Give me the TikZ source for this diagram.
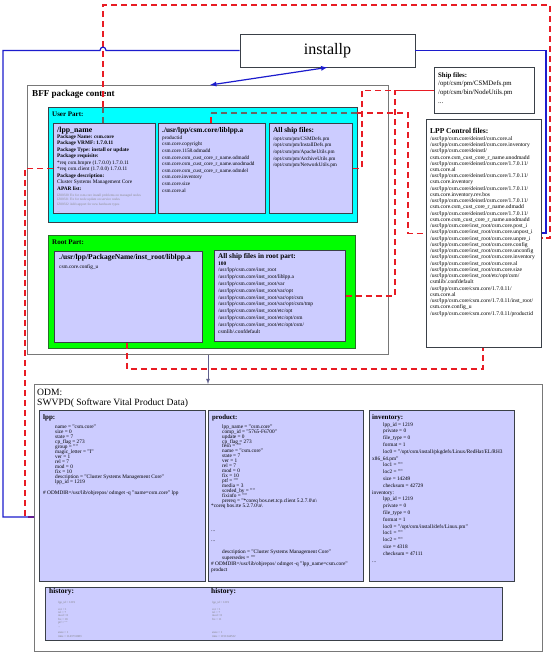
\documentclass[tikz,border=0pt]{standalone}
\usepackage{fontspec}
\setmainfont{Liberation Serif}
\usepackage{tikz}
\usetikzlibrary{arrows,calc}

\definecolor{filefill}{RGB}{204,204,255}
\definecolor{boxline}{RGB}{58,64,72}
\definecolor{partcyan}{RGB}{0,255,255}
\definecolor{partgreen}{RGB}{0,255,0}
\definecolor{greenedge}{RGB}{40,110,40}
\definecolor{linkred}{RGB}{232,28,36}
\definecolor{linkblue}{RGB}{28,28,205}
\definecolor{framegrey}{RGB}{120,120,120}
\definecolor{odmarrow}{RGB}{95,95,140}

\begin{document}
\begin{tikzpicture}[>=latex, x=1pt, y=-1pt]
	\tikzstyle{outerbox}=[draw=framegrey, line width=1.1pt, fill=white, anchor=north west, inner sep=0pt]
	\tikzstyle{partbox}=[draw=boxline, line width=0.9pt, anchor=north west, inner sep=0pt]
	\tikzstyle{filebox}=[draw=boxline, line width=0.9pt, fill=filefill, anchor=north west, inner sep=0pt]
	\tikzstyle{plainbox}=[draw=boxline, line width=0.8pt, fill=white, anchor=north west, inner sep=0pt]
	\tikzstyle{txt}=[anchor=north west, inner sep=0pt, align=left]
	\tikzstyle{redlink}=[draw=linkred, line width=1.4pt, dash pattern=on 6pt off 4pt]
	\tikzstyle{greylink}=[draw=black!60, line width=1.4pt, dash pattern=on 6pt off 4pt]
	\tikzstyle{bluelink}=[draw=linkblue, line width=1.2pt]

	\newcommand{\txtsize}[2]{\fontsize{#1}{#2}\selectfont\lineskiplimit=-10pt\relax}
	\newcommand{\fieldind}{\hspace*{11pt}}

	\path [use as bounding box, fill=white] (0,0) rectangle (553,654);

	\node (bff) [outerbox, minimum width=361pt, minimum height=269pt] at (27,85) {};
	\node (bffT) [txt, font=\bfseries\txtsize{9.1}{10}] at (32,89.5) {BFF package content};

	\node (user) [partbox, fill=partcyan, minimum width=309pt, minimum height=115pt] at (48,107) {};
	\node (userT) [txt, font=\bfseries\txtsize{7}{8}] at (52,111.5) {User Part:};

	\node (lppn) [filebox, minimum width=102pt, minimum height=90pt] at (53,123) {};
	\node (lppnT) [txt, font=\bfseries\txtsize{7.8}{9}] at (57,127) {/lpp\_name};
	\node (lppnL) [txt, font=\txtsize{5.3}{6.5}] at (57,134.5) {\textbf{Package Name: csm.core}\\\textbf{Package VRMF: 1.7.0.11}\\\textbf{Package Type: install or update}\\\textbf{Package requisite:}\\*req csm.hmpre (1.7.0.0) 1.7.0.11\\*req csm.client (1.7.0.0) 1.7.0.11\\\textbf{Package description:}\\Cluster Systems Management Core\\\textbf{APAR list:}};
	\node (lppnA) [txt, text=black!45, font=\txtsize{3.4}{4.5}] at (57,193.5) {IZ00330 Fix for csm.core install problems on managed nodes\\IZ00331 Fix for node update on service nodes\\IZ00332 Add support for new hardware types\\[2.5pt]...};

	\node (libu) [filebox, minimum width=107pt, minimum height=90pt] at (158,123) {};
	\node (libuT) [txt, font=\bfseries\txtsize{7.3}{9}] at (162,127.3) {./usr/lpp/csm.core/liblpp.a};
	\node (libuL) [txt, font=\txtsize{5.2}{6.6}] at (162,135.5) {productid\\csm.core.copyright\\csm.core.1158.odmadd\\csm.core.csm\_cust\_core\_r\_name.odmadd\\csm.core.csm\_cust\_core\_r\_name.unodmadd\\csm.core.csm\_cust\_core\_r\_name.odmdel\\csm.core.inventory\\csm.core.size\\csm.core.al};

	\node (shipu) [filebox, minimum width=83pt, minimum height=90pt] at (269,123) {};
	\node (shipuT) [txt, font=\bfseries\txtsize{7.3}{9}] at (273,127.3) {All ship files:};
	\node (shipuL) [txt, font=\txtsize{5.2}{6.6}] at (273,136.5) {/opt/csm/pm/CSMDefs.pm\\/opt/csm/pm/InstallDefs.pm\\/opt/csm/pm/ApacheUtils.pm\\/opt/csm/pm/ArchiveUtils.pm\\/opt/csm/pm/NetworkUtils.pm};

	\node (root) [partbox, draw=greenedge, line width=1.2pt, fill=partgreen, minimum width=307pt, minimum height=113pt] at (48,235) {};
	\node (rootT) [txt, font=\bfseries\txtsize{7}{8}] at (52,239.5) {Root Part:};

	\node (libr) [filebox, minimum width=148pt, minimum height=91pt] at (54,251) {};
	\node (librT) [txt, font=\bfseries\txtsize{7.5}{9}] at (59,254.3) {./usr/lpp/PackageName/inst\_root/liblpp.a};
	\node (librL) [txt, font=\txtsize{5.3}{6.5}] at (59,264.5) {csm.core.config\_u};

	\node (shipr) [filebox, minimum width=131pt, minimum height=91pt] at (214,250) {};
	\node (shiprT) [txt, font=\bfseries\txtsize{7.2}{9}] at (218,253.4) {All ship files in root part:};
	\node (shiprL) [txt, font=\txtsize{5.4}{6.8}] at (218,261.3) {\textbf{100}\\/usr/lpp/csm.core/inst\_root\\/usr/lpp/csm.core/inst\_root/liblpp.a\\/usr/lpp/csm.core/inst\_root/var\\/usr/lpp/csm.core/inst\_root/var/opt\\/usr/lpp/csm.core/inst\_root/var/opt/csm\\/usr/lpp/csm.core/inst\_root/var/opt/csm/tmp\\/usr/lpp/csm.core/inst\_root/etc/opt\\/usr/lpp/csm.core/inst\_root/etc/opt/csm\\/usr/lpp/csm.core/inst\_root/etc/opt/csm/\\csmlib/.confdefault};

	\node (ship) [plainbox, minimum width=100pt, minimum height=46pt] at (434,67) {};
	\node (shipT) [txt, font=\bfseries\txtsize{6.8}{8}] at (438,72.5) {Ship files:};
	\node (shipL) [txt, font=\txtsize{6.8}{8.7}] at (438,80.8) {/opt/csm/pm/CSMDefs.pm\\/opt/csm/bin/NodeUtils.pm\\...};

	\node (lppc) [plainbox, line width=0.9pt, minimum width=115pt, minimum height=228pt] at (426,119) {};
	\node (lppcT) [txt, font=\bfseries\txtsize{7.5}{9}] at (430,128) {LPP Control files:};
	\node (lppcL) [txt, font=\txtsize{5.6}{6.24}] at (430,136.2) {/usr/lpp/csm.core/deinstl/csm.core.al\\/usr/lpp/csm.core/deinstl/csm.core.inventory\\/usr/lpp/csm.core/deinstl/\\csm.core.csm\_cust\_core\_r\_name.unodmadd\\/usr/lpp/csm.core/deinstl/csm.core/1.7.0.11/\\csm.core.al\\/usr/lpp/csm.core/deinstl/csm.core/1.7.0.11/\\csm.core.inventory\\/usr/lpp/csm.core/deinstl/csm.core/1.7.0.11/\\csm.core.inventory.rev.bos\\/usr/lpp/csm.core/deinstl/csm.core/1.7.0.11/\\csm.core.csm\_cust\_core\_r\_name.odmadd\\/usr/lpp/csm.core/deinstl/csm.core/1.7.0.11/\\csm.core.csm\_cust\_core\_r\_name.unodmadd\\/usr/lpp/csm.core/inst\_root/csm.core.post\_i\\/usr/lpp/csm.core/inst\_root/csm.core.unpost\_i\\/usr/lpp/csm.core/inst\_root/csm.core.unpre\_i\\/usr/lpp/csm.core/inst\_root/csm.core.config\\/usr/lpp/csm.core/inst\_root/csm.core.unconfig\\/usr/lpp/csm.core/inst\_root/csm.core.inventory\\/usr/lpp/csm.core/inst\_root/csm.core.al\\/usr/lpp/csm.core/inst\_root/csm.core.size\\/usr/lpp/csm.core/inst\_root/etc/opt/csm/\\csmlib/.confdefault\\/usr/lpp/csm.core/csm.core/1.7.0.11/\\csm.core.al\\/usr/lpp/csm.core/csm.core/1.7.0.11/inst\_root/\\csm.core.config\_u\\/usr/lpp/csm.core/csm.core/1.7.0.11/productid};

	\node (inst) [draw=boxline, line width=0.8pt, fill=white, minimum width=175pt, minimum height=33pt, font=\txtsize{16}{18}] at (327.5,50.5) {installp};

	\node (odm) [outerbox, minimum width=508pt, minimum height=267pt] at (34,384) {};
	\node (odmT) [txt, font=\txtsize{9.6}{10.3}] at (37,388.5) {ODM:\\SWVPD( Software Vital Product Data)};

	\node (lpp) [filebox, minimum width=166pt, minimum height=171pt] at (39,410) {};
	\node (lppT) [txt, font=\bfseries\txtsize{7}{8}] at (43,414.5) {lpp:};
	\node (lppL) [txt, font=\txtsize{5.3}{5}] at (55,424.3) {name = "csm.core"\\size = 0\\state = 7\\cp\_flag = 273\\group = ""\\magic\_letter = "I"\\ver = 1\\rel = 7\\mod = 0\\fix = 10\\description = "Cluster Systems Management Core"\\lpp\_id = 1219};
	\node (lppQ) [txt, font=\txtsize{5.3}{5}] at (43,490.3) {\# ODMDIR=/usr/lib/objrepos/ odmget -q "name=csm.core" lpp};

	\node (prod) [filebox, minimum width=155pt, minimum height=171pt] at (208,410) {};
	\node (prodT) [txt, font=\bfseries\txtsize{6.8}{8}] at (212,414.5) {product:};
	\node (prodL) [txt, font=\txtsize{5.3}{4.95}] at (211,424.3) {\fieldind lpp\_name = "csm.core"\\\fieldind comp\_id = "5765-F6700"\\\fieldind update = 0\\\fieldind cp\_flag = 273\\\fieldind fesn = ""\\\fieldind name = "csm.core"\\\fieldind state = 7\\\fieldind ver = 1\\\fieldind rel = 7\\\fieldind mod = 0\\\fieldind fix = 10\\\fieldind ptf = ""\\\fieldind media = 3\\\fieldind sceded\_by = ""\\\fieldind fixinfo = ""\\\fieldind prereq = "*coreq bos.net.tcp.client 5.2.7.0\textbackslash n\textbackslash\\*coreq bos.rte 5.2.7.0\textbackslash n\textbackslash};
	\node (prodM) [txt, font=\txtsize{5.3}{6.3}] at (211,530.3) {...\\[3.7pt]...\\[5.7pt]\fieldind description = "Cluster Systems Management Core"\\\fieldind supersedes = ""\\\# ODMDIR=/usr/lib/objrepos/ odmget -q "lpp\_name=csm.core"\\product};

	\node (inv) [filebox, minimum width=145pt, minimum height=171pt] at (369,410) {};
	\node (invT) [txt, font=\bfseries\txtsize{7}{8}] at (372,414.5) {inventory:};
	\node (invL) [txt, font=\txtsize{5.3}{6.8}] at (372,422.3) {\fieldind lpp\_id = 1219\\\fieldind private = 0\\\fieldind file\_type = 0\\\fieldind format = 1\\\fieldind loc0 = "/opt/csm/install/pkgdefs/Linux/RedHat/EL/RH3\\x86\_64.pm"\\\fieldind loc1 = ""\\\fieldind loc2 = ""\\\fieldind size = 14249\\\fieldind checksum = 42729\\inventory:\\\fieldind lpp\_id = 1219\\\fieldind private = 0\\\fieldind file\_type = 0\\\fieldind format = 1\\\fieldind loc0 = "/opt/csm/install/defs/Linux.pm"\\\fieldind loc1 = ""\\\fieldind loc2 = ""\\\fieldind size = 4318\\\fieldind checksum = 47111\\...};

	\node (hist) [filebox, minimum width=457pt, minimum height=53pt] at (45,587) {};
	\node (histT) [txt, font=\bfseries\txtsize{7.5}{9}] at (49,588.5) {history:};
	\node (histL) [txt, text=black!50, font=\txtsize{3}{3.4}] at (58,601.5) {lpp\_id = 1219\\[2.9pt]ver = 1\\rel = 7\\mod = 0\\fix = 10\\ptf = ""\\...\\[3.4pt]state = 1\\time = 1143731083};
	\node (histU) [txt, font=\bfseries\txtsize{7.5}{9}] at (211,588.5) {history:};
	\node (histV) [txt, text=black!50, font=\txtsize{3}{3.4}] at (212,601.5) {lpp\_id = 1219\\[2.9pt]ver = 1\\rel = 7\\mod = 0\\fix = 11\\[10.2pt]state = 1\\time = 1151344532};

	\coordinate (r1top) at (103,5);
	\coordinate (r1side) at (550,238);
	\coordinate (r2side) at (25,517);
	\coordinate (r5a) at (211,113);
	\coordinate (r5b) at (357,113);
	\coordinate (r5c) at (408,113);
	\coordinate (r6a) at (127,369);
	\coordinate (r6b) at (483,369);
	\coordinate (bl) at (3,517);
	\coordinate (br) at (546,233);
	\coordinate (bffin) at (210,85);
	\coordinate (odmx) at (208,0);

	\draw [greylink] (lppn.north -| r1top) -- (user.north -| r1top);
	\draw [redlink] (user.north -| r1top) -- (r1top) -| (r1side) -- (r1side -| lppc.east);
	\draw [redlink] (lppn.west) -| (r2side) -- (r2side -| odm.west);
	\draw [redlink] (shipu.east) -- ++(9,0) |- (ship.west);
	\draw [redlink] (shipr.east) -- ++(49,0) |- (ship.west);
	\draw [redlink] (libu.north -| r5a) -- (r5a);
	\draw [greylink] (r5a) -- (r5b);
	\draw [redlink] (r5b) -- (r5c) |- (lppc.west);
	\draw [redlink] (libr.south -| r6a) -- (r6a) -- (r6b) -- (lppc.south -| r6b);

	\draw [bluelink] (inst.west) -- (106,50.5) .. controls (106,46) and (100,46) .. (100,50.5) -| (bl) -- (bl -| odm.west);
	\draw [bluelink] (inst.east) -| (br) -- (br -| lppc.east);
	\draw [bluelink, <->] (inst.south) -- (bffin);
	\draw [->, draw=odmarrow, line width=0.8pt] (bff.south -| odmx) -- (odm.north -| odmx);
\end{tikzpicture}
\end{document}
